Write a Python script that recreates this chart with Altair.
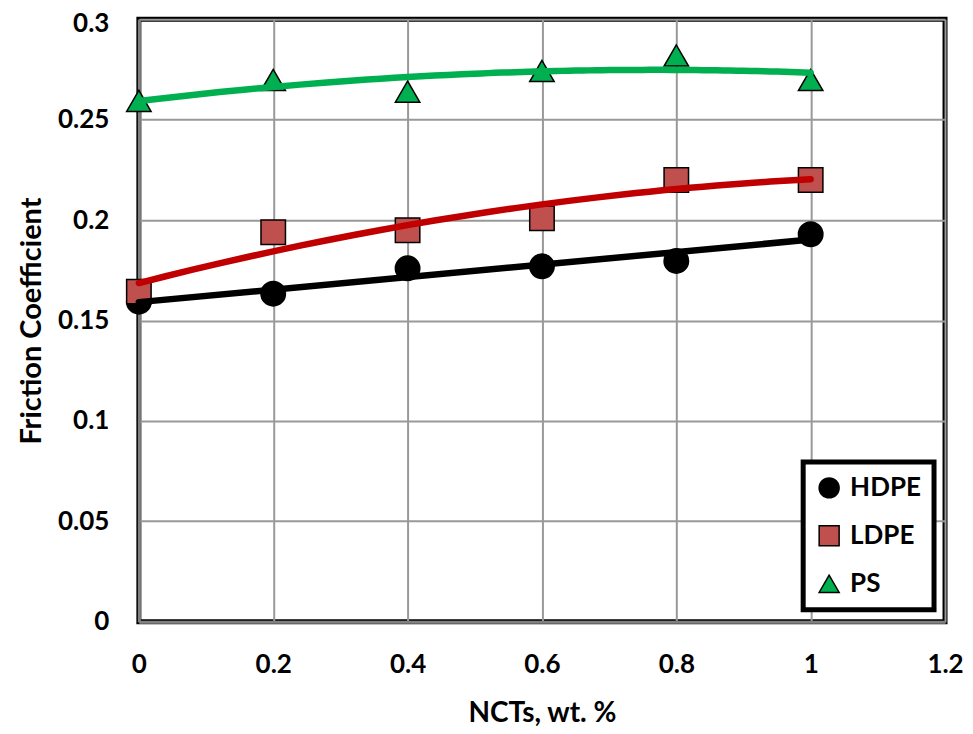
import altair as alt
import pandas as pd

nct = [0.0, 0.2, 0.4, 0.6, 0.8, 1.0]
hdpe = [0.1594, 0.1634, 0.176, 0.177, 0.1797, 0.193]
ldpe = [0.1644, 0.194, 0.195, 0.201, 0.220, 0.220]
ps = [0.2594, 0.2698, 0.264, 0.2743, 0.282, 0.2698]

series = ["HDPE", "LDPE", "PS"]
fills = ["#000000", "#C0504D", "#00B050"]
line_colors = ["#000000", "#C00000", "#00B050"]
shapes = ["circle", "square", "triangle-up"]

rows = []
for name, vals in zip(series, [hdpe, ldpe, ps]):
    for x, y in zip(nct, vals):
        rows.append({"x": x, "y": y, "series": name})
df = pd.DataFrame(rows)

FONT = "Lato"

xs = alt.Scale(domain=[0, 1.2], nice=False)
ys = alt.Scale(domain=[0, 0.3], nice=False)

xax = alt.Axis(values=[0, 0.2, 0.4, 0.6, 0.8, 1.0, 1.2], format=".1~f",
               title="NCTs, wt. %", labelPadding=30, titlePadding=22, titleFontSize=28)
yax = alt.Axis(values=[0, 0.05, 0.1, 0.15, 0.2, 0.25, 0.3], format=".2~f",
               title="Friction Coefficient", labelPadding=30, titlePadding=11, titleFontSize=29,
               labelOffset={"condition": {"test": "datum.value >= 0.3", "value": 4}, "value": 0})

base = alt.Chart(df)

points = base.mark_point(filled=True, size=600, stroke="black", strokeWidth=1.5, opacity=1).encode(
    x=alt.X("x:Q", scale=xs, axis=xax),
    y=alt.Y("y:Q", scale=ys, axis=yax),
    color=alt.Color("series:N", scale=alt.Scale(domain=series, range=fills),
                    legend=alt.Legend(title=None, orient="none", legendX=665, legendY=443)),
    shape=alt.Shape("series:N", scale=alt.Scale(domain=series, range=shapes), legend=None),
)

lines = []
methods = {"HDPE": ("linear", None), "LDPE": ("poly", 2), "PS": ("poly", 2)}
for name, col in zip(series, line_colors):
    m, order = methods[name]
    kwargs = {"method": m}
    if order:
        kwargs["order"] = order
    ln = (base.transform_filter(alt.datum.series == name)
          .transform_regression("x", "y", **kwargs)
          .mark_line(color=col, strokeWidth=6.5, strokeCap="round")
          .encode(x=alt.X("x:Q", scale=xs), y=alt.Y("y:Q", scale=ys)))
    lines.append(ln)

chart = alt.layer(points, *lines).properties(
    width=807, height=603,
    autosize=alt.AutoSizeParams(type="none"),
    padding={"left": 131, "top": 11, "right": 20, "bottom": 110},
).configure_view(
    stroke="black", strokeWidth=5
).configure_axis(
    labelFont=FONT, labelFontSize=26, labelFontWeight="bold", labelColor="#000000",
    labelFlush=False,
    titleFont=FONT, titleFontWeight="bold", titleColor="#000000",
    grid=True, gridColor="#999999", gridWidth=2,
    domainColor="#808080", domainWidth=3, ticks=False,
).configure_legend(
    labelFont=FONT, labelFontSize=26, labelFontWeight="bold", labelColor="#000000",
    symbolSize=400, symbolStrokeColor="black", symbolStrokeWidth=1.5,
    fillColor="white", strokeColor="black", strokeWidth=5,
    padding=13, rowPadding=22, labelOffset=8,
)

chart.save("out.html", embed_options={"renderer": "svg", "actions": False})
